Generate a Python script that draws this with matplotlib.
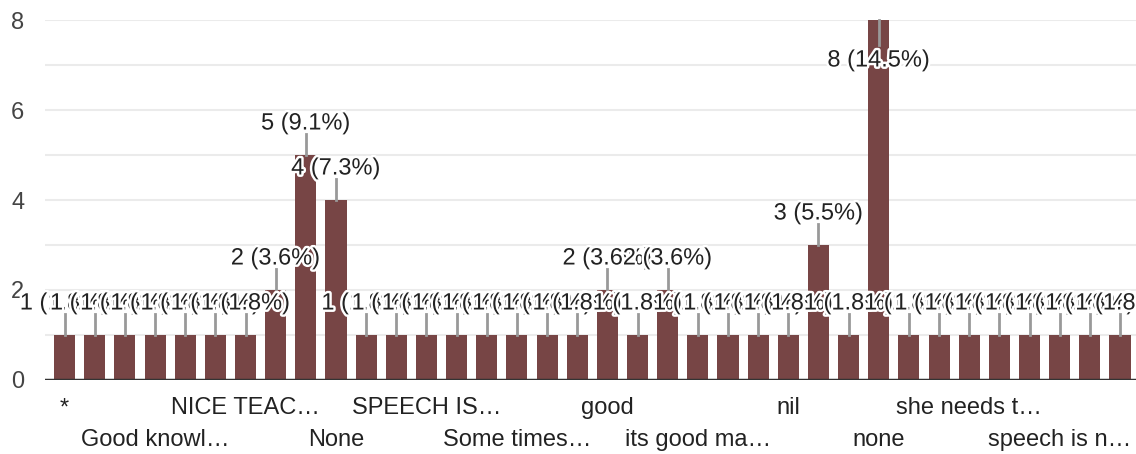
import numpy as np
import matplotlib
matplotlib.use("Agg")
import matplotlib.pyplot as plt
import matplotlib.patheffects as pe

# %% data
# 36 answers (sorted as in the form summary); only every 3rd name is shown on the axis
categories = ["*", "", "", "Good knowl…", "", "", "NICE TEAC…", "", "", "None",
              "", "", "SPEECH IS…", "", "", "Some times…", "", "", "good", "",
              "", "its good ma…", "", "", "nil", "", "", "none", "", "",
              "she needs t…", "", "", "speech is n…", "", ""]
counts = [1, 1, 1, 1, 1, 1, 1, 2, 5, 4,
          1, 1, 1, 1, 1, 1, 1, 1, 2, 1,
          2, 1, 1, 1, 1, 3, 1, 8, 1, 1,
          1, 1, 1, 1, 1, 1]
yticks = [0, 2, 4, 6, 8]

bar_color = "#774545"
total = sum(counts)
fs = 17
plt.rcParams['font.family'] = ['Liberation Sans', 'DejaVu Sans']

# %% plot
fig = plt.figure(figsize=(11.36, 4.54), dpi=100)
ax = fig.add_axes([45/1136, 74/454, 1091/1136, 360/454])
x = np.arange(len(counts))
ax.bar(x, counts, width=0.7, color=bar_color, zorder=2)
ax.set_xlim(-0.65, len(counts) - 0.47)
ax.set_ylim(0, 8)

# grid lines at every unit, labels every 2
ax.set_yticks(np.arange(0, 9), minor=True)
ax.set_yticks(yticks)
ax.set_yticklabels([str(t) for t in yticks], fontsize=fs, color="#444444")
ax.grid(axis="y", which="both", color="#ebebeb", linewidth=1.5, zorder=0)
ax.tick_params(axis="y", which="both", length=0, pad=15)
ax.set_xticks([])
for s in ax.spines.values():
    s.set_visible(False)
ax.axhline(0, color="#333333", linewidth=2.5, zorder=3)

# x labels in two staggered rows
row = 0
for i, name in enumerate(categories):
    if name == "":
        continue
    ypos = -0.078 if row % 2 == 0 else -0.167
    ax.text(i, ypos, name, transform=ax.get_xaxis_transform(), ha="center", va="center",
            fontsize=fs, color="#222222")
    row += 1

# value labels with leader lines
halo = [pe.withStroke(linewidth=3.5, foreground="white")]
for i, v in enumerate(counts):
    pct = v / total * 100
    txt = f"{v} ({pct:.1f}%)"
    if v >= 8:
        ax.plot([i, i], [v, v - 0.55], color="#999999", linewidth=2, zorder=3, clip_on=False)
        ty = v - 0.9
    else:
        ax.plot([i, i], [v, v + 0.47], color="#999999", linewidth=2, zorder=3, clip_on=False)
        ty = v + 0.7
    ax.text(i, ty, txt, ha="center", va="center", fontsize=fs, color="#222222",
            path_effects=halo, zorder=4 + i * 0.01, clip_on=False)

fig.savefig("out.png", dpi=100)
